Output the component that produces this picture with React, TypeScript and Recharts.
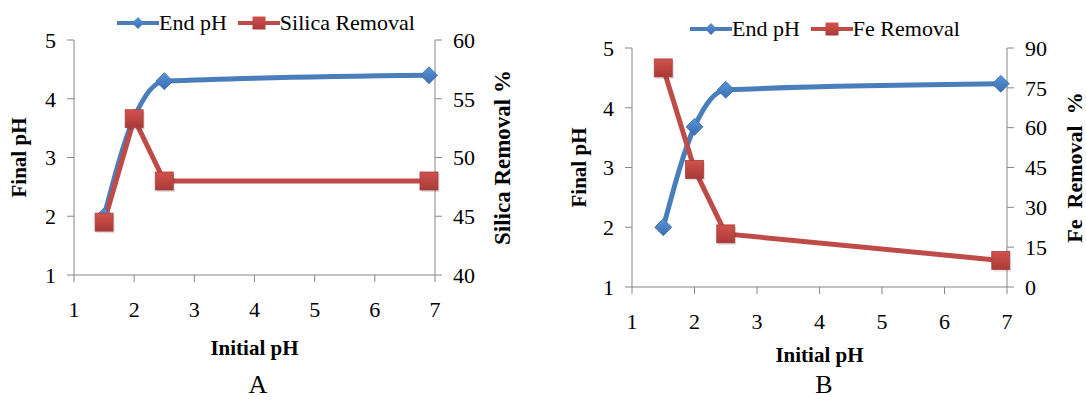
import React from "react";
import {
  LineChart,
  Line,
  XAxis,
  YAxis,
  Legend,
} from "recharts";

// values
const initialPh = [1.5, 2, 2.5, 6.9];
const endPh = [2.0, 3.68, 4.3, 4.4];
const silicaRemoval = [44.5, 53.3, 48.0, 48.0];
const feRemoval = [82.5, 44.3, 20.0, 10.0];

const xTicks = [1, 2, 3, 4, 5, 6, 7];
const phTicks = [1, 2, 3, 4, 5];
const silicaTicks = [40, 45, 50, 55, 60];
const feTicks = [0, 15, 30, 45, 60, 75, 90];

const FONT = "'Liberation Serif', 'Times New Roman', serif";
const AXIS = "#868686";
const BLUE = "#4A7EBB";
const RED = "#BE4B48";

const Diamond = ({ cx, cy, r = 8.5 }: { cx: number; cy: number; r?: number }) => (
  <path
    d={`M${cx},${cy - r} L${cx + r},${cy} L${cx},${cy + r} L${cx - r},${cy} Z`}
    fill="url(#blueGrad)"
    stroke="#3A6BA8"
    strokeWidth={0.8}
  />
);

const Square = ({ cx, cy, r = 9 }: { cx: number; cy: number; r?: number }) => (
  <g>
    <rect x={cx - r + 1.5} y={cy - r + 2} width={r * 2} height={r * 2} fill="#000" opacity={0.12} />
    <rect
      x={cx - r}
      y={cy - r}
      width={r * 2}
      height={r * 2}
      fill="url(#redGrad)"
      stroke="#A8403D"
      strokeWidth={0.8}
    />
  </g>
);

const LegendRow = ({ removalName }: { removalName: string }) => (
  <div
    style={{
      display: "flex",
      alignItems: "center",
      fontFamily: FONT,
      fontSize: 22,
      lineHeight: "24px",
      color: "#000",
      whiteSpace: "nowrap",
    }}
  >
    <svg width={42} height={18}>
      <defs>
        <linearGradient id="blueGradL" x1="0" y1="0" x2="0" y2="1">
          <stop offset="0%" stopColor="#5A93D8" />
          <stop offset="100%" stopColor="#3A6FB0" />
        </linearGradient>
      </defs>
      <line x1={0} y1={9} x2={42} y2={9} stroke={BLUE} strokeWidth={4} />
      <path d="M21,3 L27,9 L21,15 L15,9 Z" fill="url(#blueGradL)" />
    </svg>
    <span>End pH</span>
    <svg width={42} height={18} style={{ marginLeft: 11 }}>
      <defs>
        <linearGradient id="redGradL" x1="0" y1="0" x2="0" y2="1">
          <stop offset="0%" stopColor="#D2524E" />
          <stop offset="100%" stopColor="#A83A37" />
        </linearGradient>
      </defs>
      <line x1={0} y1={9} x2={42} y2={9} stroke={RED} strokeWidth={4} />
      <rect x={14.5} y={2.5} width={13} height={13} fill="url(#redGradL)" />
    </svg>
    <span>{removalName}</span>
  </div>
);

interface PanelProps {
  removal: number[];
  removalName: string;
  rightTitle: string;
  rightDomain: [number, number];
  rightTicks: number[];
  top: number;
  leftWidth: number;
  rightWidth: number;
  xHeight: number;
  leftTitleOffset: number;
  rightTitleOffset: number;
  xTitleOffset: number;
  rightTitleSize: number;
  legendLeft: number;
  legendTop: number;
}

const tickStyle = { fill: "#000", fontSize: 22, fontFamily: FONT };

function Panel(p: PanelProps) {
  const rows = initialPh.map((x, i) => ({ x, ph: endPh[i], removal: p.removal[i] }));

  return (
    <LineChart
      width={543}
      height={401}
      data={rows}
      margin={{ top: p.top, right: 0, bottom: 0, left: 0 }}
    >
      <defs>
        <linearGradient id="blueGrad" x1="0" y1="0" x2="0" y2="1">
          <stop offset="0%" stopColor="#5A93D8" />
          <stop offset="100%" stopColor="#3A6FB0" />
        </linearGradient>
        <linearGradient id="redGrad" x1="0" y1="0" x2="0" y2="1">
          <stop offset="0%" stopColor="#D2524E" />
          <stop offset="100%" stopColor="#A83A37" />
        </linearGradient>
      </defs>
      <XAxis
        dataKey="x"
        type="number"
        domain={[1, 7]}
        ticks={xTicks}
        height={p.xHeight}
        stroke={AXIS}
        tickSize={7}
        tickMargin={19}
        tick={tickStyle}
        label={{
          value: "Initial pH",
          position: "insideBottom",
          offset: p.xTitleOffset,
          fontSize: 21,
          fontWeight: "bold",
          fill: "#000",
          fontFamily: FONT,
        }}
      />
      <YAxis
        yAxisId="left"
        domain={[1, 5]}
        ticks={phTicks}
        width={p.leftWidth}
        stroke={AXIS}
        tickSize={7}
        tickMargin={11}
        tick={tickStyle}
        label={{
          value: "Final pH",
          angle: -90,
          position: "insideLeft",
          offset: p.leftTitleOffset,
          textAnchor: "middle",
          style: { textAnchor: "middle" },
          fontSize: 21,
          fontWeight: "bold",
          fill: "#000",
          fontFamily: FONT,
        }}
      />
      <YAxis
        yAxisId="right"
        orientation="right"
        domain={p.rightDomain}
        ticks={p.rightTicks}
        width={p.rightWidth}
        stroke={AXIS}
        tickSize={7}
        tickMargin={11}
        tick={tickStyle}
        label={{
          value: p.rightTitle,
          angle: -90,
          position: "insideRight",
          offset: p.rightTitleOffset,
          textAnchor: "middle",
          style: { textAnchor: "middle" },
          fontSize: p.rightTitleSize,
          fontWeight: "bold",
          fill: "#000",
          fontFamily: FONT,
        }}
      />
      <Legend
        layout="horizontal"
        verticalAlign="middle"
        align="center"
        wrapperStyle={{ left: p.legendLeft, top: p.legendTop, width: "auto" }}
        content={() => <LegendRow removalName={p.removalName} />}
      />
      <Line
        yAxisId="left"
        dataKey="ph"
        name="End pH"
        type="monotone"
        stroke={BLUE}
        strokeWidth={5}
        dot={(d: any) => <Diamond key={`d-${d.index}`} cx={d.cx} cy={d.cy} />}
        activeDot={false}
        isAnimationActive={false}
      />
      <Line
        yAxisId="right"
        dataKey="removal"
        name={p.removalName}
        type="linear"
        stroke={RED}
        strokeWidth={5}
        dot={(d: any) => <Square key={`s-${d.index}`} cx={d.cx} cy={d.cy} />}
        activeDot={false}
        isAnimationActive={false}
      />
    </LineChart>
  );
}

const captionStyle: React.CSSProperties = {
  position: "absolute",
  top: 374,
  width: 100,
  textAlign: "center",
  fontFamily: FONT,
  fontSize: 26,
  lineHeight: "22px",
  color: "#000",
};

export default function App() {
  return (
    <div
      style={{
        position: "absolute",
        left: 0,
        top: 0,
        width: 1086,
        height: 401,
        background: "#fff",
        overflow: "hidden",
      }}
    >
      <div style={{ position: "absolute", left: 0, top: 0 }}>
        <Panel
          removal={silicaRemoval}
          removalName="Silica Removal"
          rightTitle="Silica Removal %"
          rightDomain={[40, 60]}
          rightTicks={silicaTicks}
          top={40}
          leftWidth={74}
          rightWidth={108}
          xHeight={126}
          leftTitleOffset={19}
          rightTitleOffset={41}
          xTitleOffset={46}
          rightTitleSize={23}
          legendLeft={117}
          legendTop={11}
        />
      </div>
      <div style={{ position: "absolute", left: 543, top: 0 }}>
        <Panel
          removal={feRemoval}
          removalName="Fe Removal"
          rightTitle={"Fe\u00a0\u00a0Removal\u00a0\u00a0%"}
          rightDomain={[0, 90]}
          rightTicks={feTicks}
          top={48}
          leftWidth={89}
          rightWidth={79}
          xHeight={114}
          leftTitleOffset={36}
          rightTitleOffset={12}
          xTitleOffset={39}
          rightTitleSize={22}
          legendLeft={147}
          legendTop={17}
        />
      </div>
      <div style={{ ...captionStyle, left: 208 }}>A</div>
      <div style={{ ...captionStyle, left: 774 }}>B</div>
    </div>
  );
}
